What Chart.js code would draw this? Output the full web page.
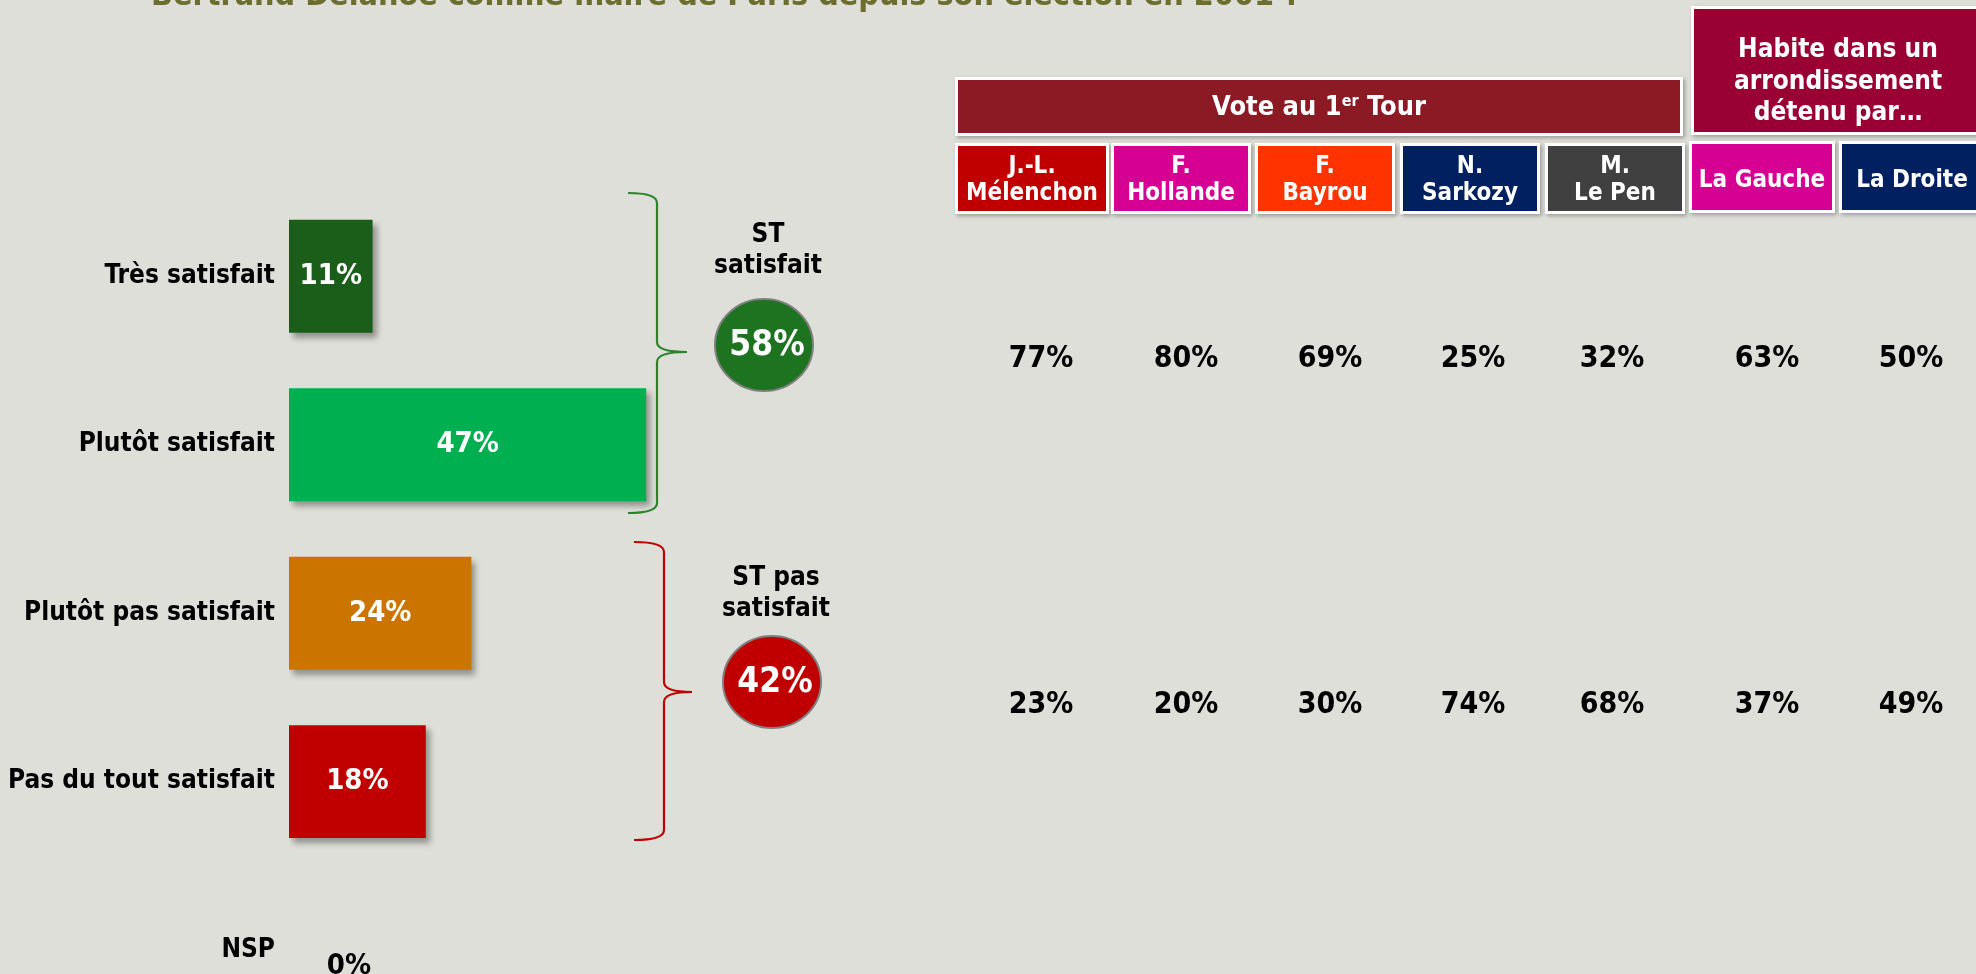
<!DOCTYPE html>
<html lang="fr">
<head>
<meta charset="utf-8">
<title>Satisfaction Bertrand Delanoë</title>
<script src="https://cdn.jsdelivr.net/npm/chart.js@4.4.1/dist/chart.umd.min.js"></script>
<style>
  html, body { margin: 0; padding: 0; background: #dfdfd9; overflow: hidden; }
  canvas { display: block; }
</style>
</head>
<body>
<canvas id="graph01" width="1976" height="1064"></canvas>
<script>
// données du graphique
const titre = 'Bertrand Delanoë comme maire de Paris depuis son élection en 2001 ?';
const categories = ['Très satisfait', 'Plutôt satisfait', 'Plutôt pas satisfait', 'Pas du tout satisfait', 'NSP'];
const valeurs = [11, 47, 24, 18, 0];
const couleursBarres = ['#1a5e1a', '#00b050', '#cc7400', '#c00000', '#888888'];

const sousTotaux = [['ST', 'satisfait'], ['ST pas', 'satisfait']];
const valeursSousTotaux = [58, 42];

const groupes = [['Vote au 1^er^ Tour'], ['Habite dans un', 'arrondissement', 'détenu par…']];
const colonnes = [['J.-L.', 'Mélenchon'], ['F.', 'Hollande'], ['F.', 'Bayrou'], ['N.', 'Sarkozy'], ['M.', 'Le Pen'], ['La Gauche'], ['La Droite']];
const stSatisfait = [77, 80, 69, 25, 32, 63, 50];
const stPasSatisfait = [23, 20, 30, 74, 68, 37, 49];

// mise en page
const POLICE = "'DejaVu Sans Condensed', 'DejaVu Sans', sans-serif";
const couleursColonnes = ['#c00000', '#d60093', '#ff3300', '#002060', '#404040', '#d60093', '#002060'];
const boitesColonnes = [[957, 145, 150, 67], [1113, 145, 136, 67], [1257, 145, 136, 67], [1402, 145, 136, 67], [1547, 145, 136, 67], [1691, 143, 142, 68], [1841, 143, 142, 68]];
const boitesGroupes = [[957, 79, 724, 55, '#8b1a25'], [1693, 8, 290, 125, '#990033']];
const xValeurs = [1041, 1186, 1330, 1473, 1612, 1767, 1911];

function police(taille) { return 'bold ' + taille + 'px ' + POLICE; }

/**
 * dessine une boîte à bord blanc avec une légère ombre
 */
function boite(ctx, x, y, w, h, couleur) {
  ctx.save();
  ctx.shadowColor = 'rgba(0,0,0,0.3)';
  ctx.shadowBlur = 4; ctx.shadowOffsetX = 2; ctx.shadowOffsetY = 2;
  ctx.fillStyle = '#ffffff';
  ctx.fillRect(x - 2, y - 2, w + 4, h + 4);
  ctx.restore();
  ctx.fillStyle = couleur;
  ctx.fillRect(x + 1, y + 1, w - 2, h - 2);
}

/**
 * texte centré, le segment entre ^ est écrit en exposant
 */
function texteCentre(ctx, txt, cx, y, taille) {
  let parts = txt.split('^');
  let largeur = 0;
  parts.forEach((p, i) => { ctx.font = police(i % 2 ? Math.round(taille * 0.6) : taille); largeur += ctx.measureText(p).width; });
  let x = cx - largeur / 2;
  ctx.textAlign = 'left';
  parts.forEach((p, i) => {
    ctx.font = police(i % 2 ? Math.round(taille * 0.6) : taille);
    ctx.fillText(p, x, i % 2 ? y - taille * 0.35 : y);
    x += ctx.measureText(p).width;
  });
}

/**
 * accolade verticale
 */
function accolade(ctx, x0, xv, xt, haut, pointe, bas, couleur) {
  ctx.save();
  ctx.strokeStyle = couleur; ctx.lineWidth = 2.2;
  ctx.beginPath();
  ctx.moveTo(x0, haut);
  ctx.quadraticCurveTo(xv, haut, xv, haut + 10);
  ctx.lineTo(xv, pointe - 10);
  ctx.quadraticCurveTo(xv, pointe, xt, pointe);
  ctx.moveTo(xt, pointe);
  ctx.quadraticCurveTo(xv, pointe, xv, pointe + 10);
  ctx.lineTo(xv, bas - 10);
  ctx.quadraticCurveTo(xv, bas, x0, bas);
  ctx.stroke();
  ctx.restore();
}

function pastille(ctx, cx, cy, couleur, valeur, lignes, yTexte) {
  ctx.save();
  ctx.beginPath();
  ctx.ellipse(cx, cy, 49, 46, 0, 0, Math.PI * 2);
  ctx.fillStyle = couleur; ctx.fill();
  ctx.lineWidth = 2; ctx.strokeStyle = '#7f7f7f'; ctx.stroke();
  ctx.fillStyle = '#ffffff'; ctx.textBaseline = 'middle';
  texteCentre(ctx, valeur + '%', cx + 3, cy + 1, 35);
  ctx.textBaseline = 'alphabetic'; ctx.fillStyle = '#000000';
  lignes.forEach((l, i) => texteCentre(ctx, l, cx + 4, yTexte + i * 31, 26));
  ctx.restore();
}

const ombreBarres = {
  id: 'ombreBarres',
  beforeDatasetsDraw(chart) {
    let c = chart.ctx;
    c.save();
    c.shadowColor = 'rgba(0,0,0,0.35)';
    c.shadowBlur = 6; c.shadowOffsetX = 4; c.shadowOffsetY = 5;
  },
  afterDatasetsDraw(chart) {
    let c = chart.ctx;
    c.restore();
    // étiquettes des barres
    chart.getDatasetMeta(0).data.forEach((bar, i) => {
      c.save();
      c.textBaseline = 'middle';
      if (valeurs[i] > 0) {
        c.fillStyle = '#ffffff';
        texteCentre(c, valeurs[i] + '%', (bar.x + bar.base) / 2, bar.y, 29);
      } else {
        c.fillStyle = '#000000';
        texteCentre(c, valeurs[i] + '%', bar.base + 60, bar.y + 16, 29);
      }
      c.restore();
    });
  }
};

const decor = {
  id: 'decor',
  afterDraw(chart) {
    let ctx = chart.ctx;
    let y = chart.scales.y;
    ctx.save();
    // titre coupé en haut, ajusté à la largeur de l'original
    ctx.fillStyle = '#6b6e2d';
    ctx.textAlign = 'left'; ctx.textBaseline = 'alphabetic';
    ctx.font = police(29);
    let t = Math.round(29 * 1147 / ctx.measureText(titre).width);
    ctx.font = police(t);
    ctx.fillText(titre, 151, 5);

    // accolades et sous-totaux
    accolade(ctx, 628, 657, 687, 193, 352, 513, '#2a842a');
    accolade(ctx, 634, 664, 692, 542, 692, 840, '#c00000');
    pastille(ctx, 764, 345, '#1e7320', valeursSousTotaux[0], sousTotaux[0], 242);
    pastille(ctx, 772, 682, '#c00000', valeursSousTotaux[1], sousTotaux[1], 585);

    // en-têtes
    boitesGroupes.forEach((b, g) => {
      boite(ctx, b[0], b[1], b[2], b[3], b[4]);
      ctx.fillStyle = '#ffffff';
      let lignes = groupes[g];
      let cx = b[0] + b[2] / 2;
      let y0 = g === 0 ? 115 : 57;
      lignes.forEach((l, i) => texteCentre(ctx, l, cx, y0 + i * 31.5, g === 0 ? 27 : 26));
    });
    boitesColonnes.forEach((b, i) => {
      boite(ctx, b[0], b[1], b[2], b[3], couleursColonnes[i]);
      ctx.fillStyle = '#ffffff';
      let cx = b[0] + b[2] / 2;
      if (colonnes[i].length == 1) { texteCentre(ctx, colonnes[i][0], cx, 187, 24); }
      else { colonnes[i].forEach((l, k) => texteCentre(ctx, l, cx, 173 + k * 27, 24)); }
    });

    // valeurs par sous-population, alignées sur les accolades
    let yHaut = (y.getPixelForValue(0) + y.getPixelForValue(1)) / 2 - 1;
    let yBas = (y.getPixelForValue(2) + y.getPixelForValue(3)) / 2 + 8;
    ctx.fillStyle = '#000000';
    ctx.textBaseline = 'middle';
    xValeurs.forEach((x, i) => {
      texteCentre(ctx, stSatisfait[i] + '%', x, yHaut, 30);
      texteCentre(ctx, stPasSatisfait[i] + '%', x, yBas, 30);
    });
    ctx.restore();
  }
};

function graph01() {
  let data = {
    labels: categories,
    datasets: [{
      data: valeurs,
      backgroundColor: couleursBarres,
      borderWidth: 0,
      barPercentage: 0.67,
      categoryPercentage: 1
    }]
  };
  let options = {
    indexAxis: 'y',
    responsive: false,
    animation: false,
    layout: { padding: { top: 192, bottom: 6, left: 0, right: 927 } },
    scales: {
      x: { display: false, min: 0, max: 100 },
      y: {
        grid: { display: false, drawTicks: false },
        border: { display: false },
        ticks: { color: '#000000', padding: 14, font: { family: POLICE, size: 26, weight: 'bold' } },
        afterFit: (s) => { s.width = 289; }
      }
    },
    plugins: { legend: { display: false }, tooltip: { enabled: false } }
  };
  let ctx = document.getElementById('graph01').getContext('2d');
  new Chart(ctx, { type: 'bar', data: data, options: options, plugins: [ombreBarres, decor] });
}

graph01();
</script>
</body>
</html>
